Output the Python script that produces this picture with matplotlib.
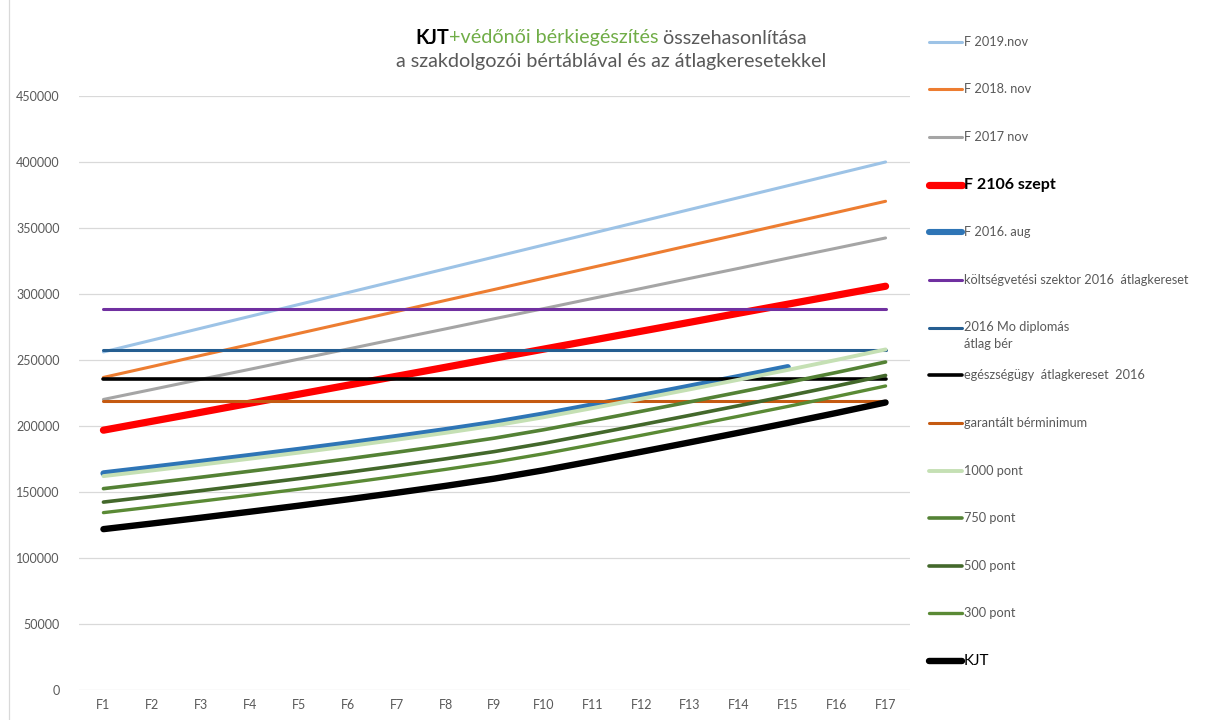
import matplotlib
matplotlib.use("Agg")
import matplotlib.pyplot as plt
from matplotlib.lines import Line2D
import numpy as np

plt.rcParams['font.family'] = ['Lato', 'DejaVu Sans']

# ---------------- data ----------------
categories = ["F1", "F2", "F3", "F4", "F5", "F6", "F7", "F8", "F9",
              "F10", "F11", "F12", "F13", "F14", "F15", "F16", "F17"]

f2019_nov = [256000, 265000, 274000, 283000, 292000, 301000, 310000, 319000, 328000,
             337000, 346000, 355000, 364000, 373000, 382000, 391000, 400000]
f2018_nov = [236700, 245000, 253400, 261700, 270100, 278400, 286700, 295100, 303400,
             311800, 320100, 328400, 336800, 345100, 353500, 361800, 370200]
f2017_nov = [220000, 227600, 235300, 242900, 250600, 258200, 265900, 273500, 281200,
             288800, 296500, 304100, 311800, 319400, 327100, 334700, 342400]
f2106_szept = [196700, 203500, 210300, 217200, 224000, 230800, 237600, 244400, 251300,
               258100, 264900, 271700, 278500, 285400, 292200, 299000, 305800]
f2016_aug = [164000, 168300, 172700, 177200, 181800, 186600, 191600, 196800, 202300,
             208600, 215500, 222600, 229800, 237100, 244500]
koltsegvetesi_2016 = 288200
diplomas_2016 = 257100
egeszsegugy_2016 = 235400
garantalt_berminimum = 218700
pont1000 = [161900, 166200, 170600, 175100, 179700, 184500, 189500, 194700, 200200,
            206500, 213400, 220500, 227700, 235000, 242400, 250000, 257900]
pont750 = [152400, 156700, 161100, 165600, 170200, 175000, 180000, 185200, 190700,
           197000, 203900, 211000, 218200, 225500, 232900, 240500, 248400]
pont500 = [142200, 146500, 150900, 155400, 160000, 164800, 169800, 175000, 180500,
           186800, 193700, 200800, 208000, 215300, 222700, 230300, 238200]
pont300 = [134200, 138500, 142900, 147400, 152000, 156800, 161800, 167000, 172500,
           178800, 185700, 192800, 200000, 207300, 214700, 222300, 230200]
kjt = [121700, 126000, 130400, 134900, 139500, 144300, 149300, 154500, 160000,
       166300, 173200, 180300, 187500, 194800, 202200, 209800, 217700]

labels = ["F 2019.nov", "F 2018. nov", "F 2017 nov", "F 2106 szept", "F 2016. aug",
          "költségvetési szektor 2016  átlagkereset", "2016 Mo diplomás\nátlag bér",
          "egészségügy  átlagkereset  2016", "garantált bérminimum",
          "1000 pont", "750 pont", "500 pont", "300 pont", "KJT"]
y_ticks = [0, 50000, 100000, 150000, 200000, 250000, 300000, 350000, 400000, 450000]

# ---------------- figure ----------------
W, H = 1206, 720
fig = plt.figure(figsize=(W / 100, H / 100), dpi=100)
fig.patch.set_facecolor("white")

ax_l, ax_r, ax_t, ax_b = 79, 910, 96, 689.7
ax = fig.add_axes([ax_l / W, 1 - ax_b / H, (ax_r - ax_l) / W, (ax_b - ax_t) / H])

n = len(categories)
x = np.arange(n)

colors = ["#9DC3E6", "#ED7D31", "#A5A5A5", "#FF0000", "#2E75B6",
          "#7030A0", "#255E91", "#000000", "#C55A11",
          "#C5E0B4", "#548235", "#43682B", "#5A8A35", "#000000"]
widths = [2.2, 2.2, 2.2, 5.2, 4.4, 2.2, 2.2, 2.6, 2.2, 2.8, 2.6, 2.6, 2.4, 4.6]

series = [f2019_nov, f2018_nov, f2017_nov, f2106_szept, f2016_aug,
          [koltsegvetesi_2016] * n, [diplomas_2016] * n, [egeszsegugy_2016] * n,
          [garantalt_berminimum] * n, pont1000, pont750, pont500, pont300, kjt]

for i, (vals, c, lw) in enumerate(zip(series, colors, widths)):
    ax.plot(x[:len(vals)], vals, color=c, lw=lw, solid_capstyle="round",
            solid_joinstyle="round", zorder=3 + i * 0.01)

ax.set_xlim(-0.5, n - 0.5)
ax.set_ylim(0, 450000)
ax.set_yticks(y_ticks)
ax.set_yticklabels([str(v) for v in y_ticks])
ax.set_xticks(x)
ax.set_xticklabels(categories)
ax.grid(axis="y", color="#D9D9D9", lw=0.9, zorder=0)
ax.set_axisbelow(True)
for s in ax.spines.values():
    s.set_visible(False)
ax.tick_params(axis="both", length=0, colors="#595959", labelsize=9)
ax.tick_params(axis="y", pad=14)
ax.tick_params(axis="x", pad=7)
ax.patch.set_alpha(0)

# left border line of the chart area
fig.add_artist(Line2D([9 / W, 9 / W], [0, 1], color="#D9D9D9", lw=0.9))

# ---------------- legend (manual) ----------------
leg_y = [42, 89, 137, 185, 232, 280, 328, 375, 423, 471, 518, 566, 613, 661]
for lab, c, lw, yy in zip(labels, colors, widths, leg_y):
    fig.add_artist(Line2D([929 / W, 962 / W], [1 - yy / H, 1 - yy / H], color=c,
                          lw=lw, solid_capstyle="round"))
    if lab == "F 2106 szept":
        fig.text(964 / W, 1 - yy / H, lab, fontsize=11.5, fontweight="bold",
                 color="#000000", va="center", ha="left")
    elif lab == "KJT":
        fig.text(964 / W, 1 - yy / H, lab, fontsize=11, color="#000000",
                 va="center", ha="left")
    elif "\n" in lab:
        fig.text(964 / W, 1 - (yy - 7) / H, lab, fontsize=9.2, color="#595959",
                 va="top", ha="left", linespacing=1.45)
    else:
        fig.text(964 / W, 1 - yy / H, lab, fontsize=9.2, color="#595959",
                 va="center", ha="left")

# ---------------- title ----------------
renderer = fig.canvas.get_renderer()
pieces = [("KJT", "#000000", "bold"), ("+védőnői bérkiegészítés", "#70AD47", "normal"),
          (" összehasonlítása", "#595959", "normal")]
tsize = 14.2
texts = []
for s, c, wgt in pieces:
    t = fig.text(0, 1 - 38 / H, s, fontsize=tsize, color=c, fontweight=wgt,
                 va="center", ha="left")
    texts.append(t)
ws = [t.get_window_extent(renderer).width for t in texts]
total = sum(ws)
cx = 611
xpos = cx - total / 2
for t, w_ in zip(texts, ws):
    t.set_x(xpos / W)
    xpos += w_
fig.text(611 / W, 1 - 62 / H, "a szakdolgozói bértáblával és az átlagkeresetekkel",
         fontsize=tsize, color="#595959", va="center", ha="center")

fig.savefig("out.png", dpi=100, facecolor="white")
